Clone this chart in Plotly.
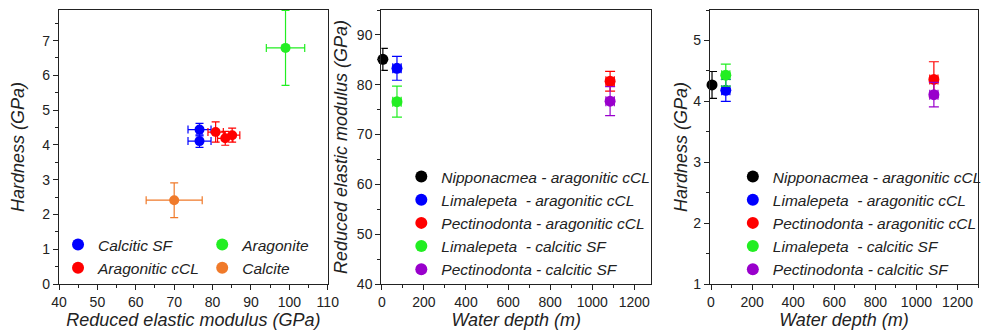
import plotly.graph_objects as go

# ---------------- Panel 1: Hardness vs Reduced elastic modulus ----------------
p1_names = ["Calcitic SF", "Aragonitic cCL", "Aragonite", "Calcite"]
p1_colors = ["#0000FF", "#FF0000", "#22EE22", "#F07A2A"]
p1_legend = ["legend", "legend", "legend4", "legend4"]
p1_E = [[76.6, 76.6], [80.8, 83.3, 85.1], [99.0], [70.0]]
p1_E_err = [[3.0, 3.0], [2.0, 2.0, 2.0], [5.0], [7.3]]
p1_H = [[4.44, 4.11], [4.37, 4.19, 4.28], [6.79], [2.41]]
p1_H_err = [[0.18, 0.18], [0.29, 0.2, 0.2], [1.08], [0.5]]

# ---------------- Panels 2 & 3: vs water depth ----------------
p2_names = ["Nipponacmea - aragonitic cCL", "Limalepeta  - aragonitic cCL",
            "Pectinodonta - aragonitic cCL", "Limalepeta  - calcitic SF",
            "Pectinodonta - calcitic SF"]
p2_colors = ["#000000", "#0000FF", "#FF0000", "#22EE22", "#9900CC"]
depth = [5, 72, 1085, 72, 1085]
depth_err = [0, 20, 20, 20, 20]
modulus = [85.1, 83.3, 80.7, 76.6, 76.7]
modulus_err = [2.2, 2.4, 2.0, 3.1, 2.9]
hardness = [4.27, 4.18, 4.36, 4.43, 4.11]
hardness_err = [0.22, 0.18, 0.29, 0.18, 0.2]

FONT = "Liberation Sans, Arial, sans-serif"
fig = go.Figure()

for i, name in enumerate(p1_names):
    c = p1_colors[i]
    fig.add_trace(go.Scatter(
        x=p1_E[i], y=p1_H[i], mode="markers", name=name,
        marker=dict(color=c, size=10, symbol="circle"),
        error_x=dict(type="data", array=p1_E_err[i], color=c, thickness=1.2, width=4),
        error_y=dict(type="data", array=p1_H_err[i], color=c, thickness=1.2, width=4),
        xaxis="x", yaxis="y", legend=p1_legend[i], cliponaxis=False))

for i, name in enumerate(p2_names):
    c = p2_colors[i]
    fig.add_trace(go.Scatter(
        x=[depth[i]], y=[modulus[i]], mode="markers", name=name,
        marker=dict(color=c, size=11, symbol="circle"),
        error_x=dict(type="data", array=[depth_err[i]], color=c, thickness=1.2, width=5),
        error_y=dict(type="data", array=[modulus_err[i]], color=c, thickness=1.2, width=5),
        xaxis="x2", yaxis="y2", legend="legend2", cliponaxis=False))

for i, name in enumerate(p2_names):
    c = p2_colors[i]
    fig.add_trace(go.Scatter(
        x=[depth[i]], y=[hardness[i]], mode="markers", name=name,
        marker=dict(color=c, size=11, symbol="circle"),
        error_x=dict(type="data", array=[depth_err[i]], color=c, thickness=1.2, width=5),
        error_y=dict(type="data", array=[hardness_err[i]], color=c, thickness=1.2, width=5),
        xaxis="x3", yaxis="y3", legend="legend3", cliponaxis=False))

W, H = 991, 334


def ax(domain, rng, dtick, minor_dtick, title, standoff, anchor):
    return dict(
        domain=domain, range=rng, dtick=dtick, tick0=0,
        ticks="outside", ticklen=5, tickwidth=1.2, tickcolor="#222",
        minor=dict(dtick=minor_dtick, tick0=0, ticks="outside", ticklen=3,
                   tickwidth=1.2, tickcolor="#222"),
        showline=True, linecolor="#222", linewidth=1.3, mirror=True,
        showgrid=False, zeroline=False, anchor=anchor,
        tickfont=dict(family=FONT, size=14, color="#222"),
        title=dict(text=title, standoff=standoff,
                   font=dict(family=FONT, size=18, color="#222", style="italic")),
    )


def px(v):
    return v / W


def py(v):
    return 1 - (v - 10) / 274


xd1 = [52 / W, 326 / W]
xd2 = [380.7 / W, 655.7 / W]
xd3 = [715.7 / W, 989 / W]

legfont = dict(family=FONT, size=15.5, color="#222", style="italic")
leg_common = dict(xanchor="left", yanchor="top", font=legfont,
                  bgcolor="rgba(0,0,0,0)", itemsizing="constant", tracegroupgap=0)

fig.update_layout(
    width=W, height=H,
    margin=dict(l=0, r=0, t=10, b=50),
    paper_bgcolor="white", plot_bgcolor="white",
    xaxis=ax(xd1, [40, 110], 10, 5, "Reduced elastic modulus (GPa)", 4, "y"),
    yaxis=ax([0, 1], [0, 7.88], 1, 0.5, "Hardness (GPa)", 12, "x"),
    xaxis2=ax(xd2, [-2, 1280], 200, 100, "Water depth (m)", 4, "y2"),
    yaxis2=ax([0, 1], [40, 95], 10, 5, "Reduced elastic modulus (GPa)", 4, "x2"),
    xaxis3=ax(xd3, [-5, 1300], 200, 100, "Water depth (m)", 4, "y3"),
    yaxis3=ax([0, 1], [1, 5.5], 1, 0.5, "Hardness (GPa)", 0, "x3"),
    legend=dict(x=px(51), y=py(228), **leg_common),
    legend4=dict(x=px(198), y=py(228), **leg_common),
    legend2=dict(x=px(401), y=py(160), **leg_common),
    legend3=dict(x=px(739), y=py(160), **leg_common),
)

fig.write_html("out.html")
